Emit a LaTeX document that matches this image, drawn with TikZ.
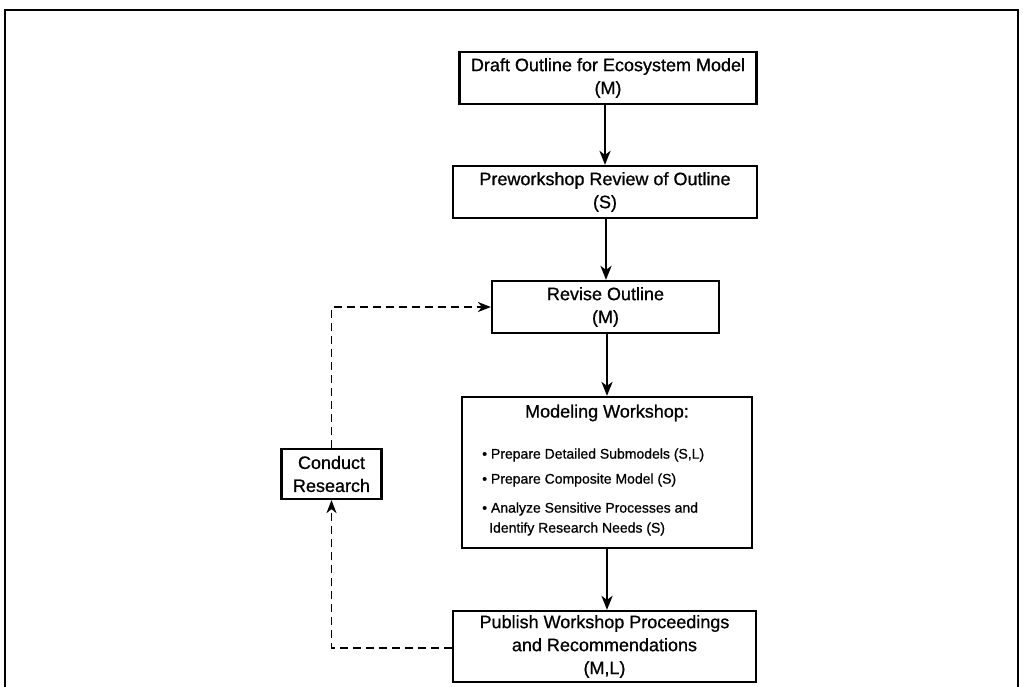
\documentclass[tikz,border=0pt]{standalone}
\usepackage{fontspec}
\setmainfont[FakeBold=0.8]{Liberation Sans}
\newfontfamily\boxfont[FakeBold=0.8]{Liberation Sans}
\usetikzlibrary{arrows.meta,calc}
\begin{document}
\begin{tikzpicture}[x=1pt,y=-1pt,
  stepbox/.style={draw, line width=2.2pt, rectangle, inner sep=0pt, align=center,
    font=\boxfont\fontsize{18}{23}\selectfont},
  flow/.style={line width=2.6pt, -{Stealth[length=14pt,width=11pt,inset=4pt]}},
  feedback/.style={line width=1.8pt, dash pattern=on 8pt off 5pt,
    -{Stealth[length=13pt,width=10pt,inset=4pt]}},
  itemtext/.style={anchor=west, inner sep=0pt, font=\boxfont\fontsize{14}{18}\selectfont}]
  \useasboundingbox (0,0) rectangle (1023,686);
  % page frame
  \draw[line width=2.2pt] (5,690) -- (5,10) -- (1018,10) -- (1018,690);

  \node[stepbox, minimum width=297pt, minimum height=52pt] (draft) at (608,78)
    {Draft Outline for Ecosystem Model\\(M)};
  \node[stepbox, minimum width=304pt, minimum height=52pt] (review) at (605,192)
    {Preworkshop Review of Outline\\(S)};
  \node[stepbox, minimum width=227pt, minimum height=52pt] (revise) at (605.5,307)
    {Revise Outline\\(M)};
  \node[stepbox, minimum width=290pt, minimum height=151pt] (workshop) at (607,472.5) {};
  \node[stepbox, minimum width=303pt, minimum height=71pt] (publish) at (604.5,646.5)
    {Publish Workshop Proceedings\\and Recommendations\\(M,L)};
  \node[stepbox, minimum width=100pt, minimum height=50pt] (research) at (331.5,474)
    {Conduct\\Research};

  % workshop contents
  \node[anchor=center, inner sep=0pt, font=\boxfont\fontsize{18}{23}\selectfont] (wstitle)
    at ($(workshop.north)+(0,17)$) {Modeling Workshop:};
  \node[itemtext] (wsa) at (482,455) {• Prepare Detailed Submodels (S,L)};
  \node[itemtext] (wsb) at (482,480) {• Prepare Composite Model (S)};
  \node[itemtext] (wsc) at (482,509) {• Analyze Sensitive Processes and};
  \node[itemtext] (wsd) at (489,529) {Identify Research Needs (S)};

  % main flow
  \draw[flow] (draft.south -| 605,0) -- (review.north -| 605,0);
  \draw[flow] (review.south -| 606,0) -- (revise.north -| 606,0);
  \draw[flow] (revise.south -| 607,0) -- (workshop.north -| 607,0);
  \draw[flow] (workshop.south -| 607,0) -- (publish.north -| 607,0);

  % research feedback loop
  \draw[feedback] (publish.west |- 0,648) -| (research.south);
  \draw[feedback] (research.north) |- (revise.west);
\end{tikzpicture}
\end{document}
